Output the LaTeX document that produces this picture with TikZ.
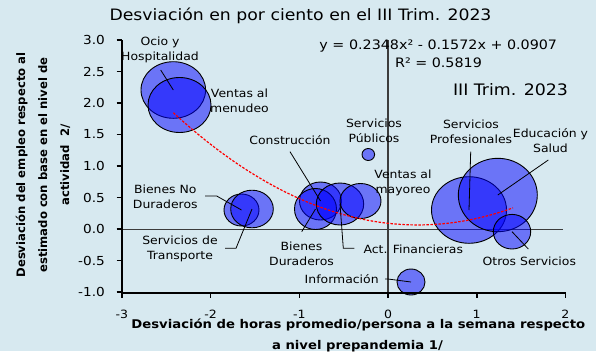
\documentclass[tikz,border=0pt]{standalone}
\usepackage{fontspec}
\setmainfont{DejaVu Sans}[FakeStretch=1.1]
\newfontfamily\rotfont{DejaVu Sans}
\usetikzlibrary{shapes.geometric}
\definecolor{bgc}{RGB}{215,233,240}
\definecolor{axgray}{RGB}{60,60,60}
\tikzset{
  bub/.style={ellipse, draw=black, line width=0.9pt, fill=blue, fill opacity=0.5, draw opacity=1, inner sep=0pt},
  lbl/.style={font=\fontsize{11.3}{15}\selectfont, align=center, inner sep=0pt, text=black},
  lead/.style={draw=black, line width=0.8pt},
  ytl/.style={font=\fontsize{12.4}{14}\selectfont, anchor=east, inner sep=0pt},
  xtl/.style={font=\fontsize{11.4}{13}\selectfont, inner sep=0pt},
  axline/.style={draw=black, line width=1.8pt},
  trend/.style={draw=red, line width=1.2pt, dash pattern=on 2.5pt off 1.5pt},
}
\begin{document}
\begin{tikzpicture}[x=1pt, y=-1pt]
\useasboundingbox (0,0) rectangle (596,351);
\fill[bgc] (0,0) rectangle (596,351);

% reference lines
\draw[axgray, line width=1pt] (121.7,229) -- (563,229);
\draw[axgray, line width=1.4pt] (388,40) -- (388,293);

% bubbles
\node[bub, minimum width=64.6pt, minimum height=56.6pt] (ocio) at (173.3,90) {};
\node[bub, minimum width=63pt, minimum height=55pt] (vmen) at (179.5,105) {};
\node[bub, minimum width=35pt, minimum height=32pt] (bnd) at (241.5,210) {};
\node[bub, minimum width=42.6pt, minimum height=37.6pt] (stran) at (252,209) {};
\node[bub, minimum width=42pt, minimum height=38pt] (constr) at (320.5,201) {};
\node[bub, minimum width=42pt, minimum height=41pt] (bdur) at (315.5,209) {};
\node[bub, minimum width=47.4pt, minimum height=42pt] (actf) at (340,204) {};
\node[bub, minimum width=41pt, minimum height=35pt] (vmay) at (360.5,201) {};
\node[bub, minimum width=12.6pt, minimum height=12pt] (spub) at (368.3,154.5) {};
\node[bub, minimum width=28pt, minimum height=26pt] (info) at (411,282) {};
\node[bub, minimum width=75pt, minimum height=66.6pt] (sprof) at (469,210) {};
\node[bub, minimum width=79pt, minimum height=73.4pt] (edu) at (497.8,195) {};
\node[bub, minimum width=37.4pt, minimum height=34.6pt] (otros) at (512,231.7) {};

% trend line
\begin{scope}[shift={(388,229)}, x=88.7pt, y=63pt]
\draw[trend] plot[domain=-2.42:1.41, samples=80, smooth] (\x, {0.2348*\x*\x - 0.1572*\x + 0.0907});
\end{scope}

% axes
\draw[axline] (121.7,40) -- (121.7,293) -- (566,293);
\foreach \v/\t/\n in {3/3.0/a, 2.5/2.5/b, 2/2.0/c, 1.5/1.5/d, 1/1.0/e, 0.5/0.5/f, 0/0.0/g, -0.5/-0.5/h, -1/-1.0/i}{
  \draw[black, line width=1.6pt] (116.5,{229-63*\v}) -- (121.7,{229-63*\v});
  \node[ytl] (yt\n) at (105,{229-63*\v}) {\t};
}
\foreach \v/\n in {-3/a, -2/b, -1/c, 0/d, 1/e, 2/f}{
  \draw[black, line width=1.6pt] ({388+88.7*\v},293) -- ({388+88.7*\v},297.5);
  \node[xtl] (xt\n) at ({388+88.7*\v},314.5) {\v};
}

% titles
\node[font=\fontsize{15.7}{18}\selectfont, anchor=base, inner sep=0pt] (title) at (300.5,20.7) {Desviación en por ciento en el III Trim. 2023};
\node[rotate=90, align=center, inner sep=0pt, font={\rotfont\bfseries\fontsize{11.65}{22}\selectfont}] (ytitle) at (43,165) {Desviación del empleo respecto al\\estimado con base en el nivel de\\actividad~~2/};
\node[font=\bfseries\fontsize{12}{14}\selectfont, anchor=base, inner sep=0pt] (xtitle1) at (358.3,328) {Desviación de horas promedio/persona a la semana respecto};
\node[font=\bfseries\fontsize{12}{14}\selectfont, anchor=base, inner sep=0pt] (xtitle2) at (357.5,349.5) {a nivel prepandemia 1/};

% equation and period
\node[font=\fontsize{13}{15}\selectfont, anchor=base, inner sep=0pt] (eq) at (438.3,49.3) {y = 0.2348x² - 0.1572x + 0.0907};
\node[font=\fontsize{13}{15}\selectfont, anchor=base, inner sep=0pt] (r2) at (438.5,67.3) {R² = 0.5819};
\node[font=\fontsize{15.8}{18}\selectfont, anchor=base, inner sep=0pt] (period) at (510.5,95) {III Trim. 2023};

% labels
\node[lbl] (Locio) at (160,50) {Ocio y\\Hospitalidad};
\node[lbl] (Lvmen) at (239.5,101) {Ventas al\\menudeo};
\node[lbl] (Lconstr) at (290,140) {Construcción};
\node[lbl] (Lspub) at (374,131) {Servicios\\Públicos};
\node[lbl] (Lsprof) at (471,132) {Servicios\\Profesionales};
\node[lbl] (Ledu) at (550.5,141) {Educación y\\Salud};
\node[lbl] (Lvmay) at (403,183) {Ventas al\\mayoreo};
\node[lbl] (Lbnd) at (165.3,196.7) {Bienes No\\Duraderos};
\node[lbl] (Lstran) at (180,249) {Servicios de\\Transporte};
\node[lbl] (Lbdur) at (301.5,254) {Bienes\\Duraderos};
\node[lbl] (Lactf) at (413.3,249) {Act. Financieras};
\node[lbl] (Lotros) at (529.3,261.7) {Otros Servicios};
\node[lbl] (Linfo) at (341.7,279.3) {Información};

% leader lines
\coordinate (cocio) at (160.7,70);
\coordinate (cconstr) at (290,151.7);
\coordinate (cbdur) at (301.7,231.7);
\coordinate (cbnd1) at (205,196);
\coordinate (cbnd2) at (216.7,196);
\coordinate (cst1) at (225,248.3);
\coordinate (cst2) at (236,248.3);
\coordinate (caf1) at (354.3,248.3);
\coordinate (caf2) at (343.3,248.3);
\coordinate (csprof) at (470.7,151.7);
\coordinate (cedu) at (548.3,160);
\coordinate (cotros) at (528.3,249);
\coordinate (cinfo1) at (385,279);
\coordinate (cinfo2) at (388,279);
\draw[lead] (cocio) -- (ocio.center);
\draw[lead] (cconstr) -- (constr.center);
\draw[lead] (cbdur) -- (bdur.center);
\draw[lead] (cbnd1) -- (cbnd2) -- (bnd.center);
\draw[lead] (cst1) -- (cst2) -- (stran.center);
\draw[lead] (caf1) -- (caf2) -- (actf.center);
\draw[lead] (csprof) -- (sprof.center);
\draw[lead] (cedu) -- (edu.center);
\draw[lead] (cotros) -- (otros.center);
\draw[lead] (cinfo1) -- (cinfo2) -- (info.center);
\end{tikzpicture}
\end{document}
